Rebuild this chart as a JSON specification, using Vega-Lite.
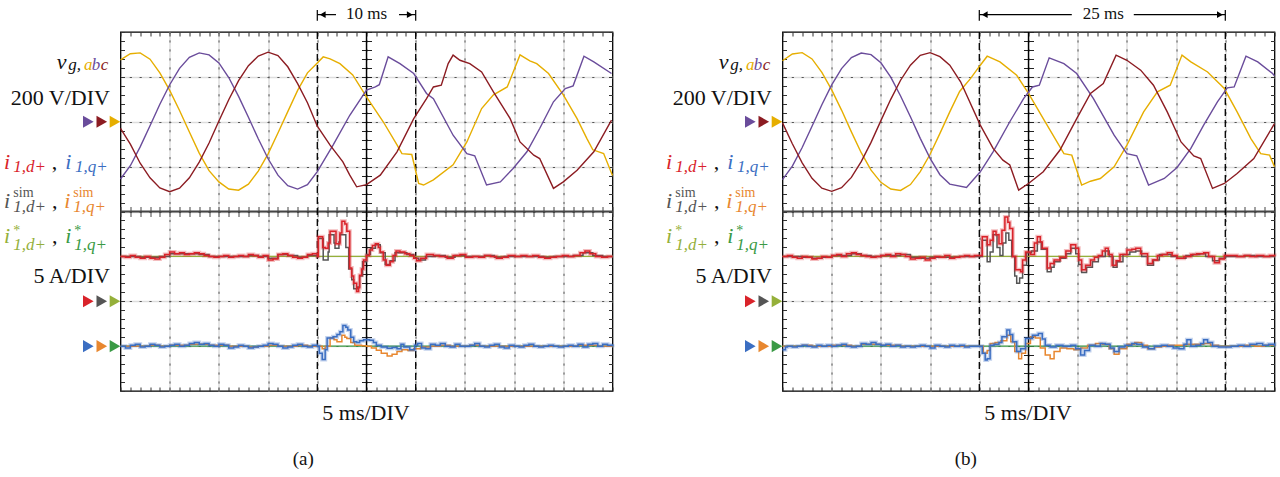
{
"$schema":"https://vega.github.io/schema/vega-lite/v6.json",
"padding":{"left":2.5,"top":3,"right":4,"bottom":0},
"autosize":{"type":"pad"},
"background":"white",
"spacing":170,
"bounds":"flush",
"config":{"view":{"stroke":"#000","strokeWidth":1.3},"text":{"font":"Liberation Serif"}},
"datasets":{
"frame":[{"t":0,"yd":0}],
"ctr":[{"t":25,"yd":0}],
"ev_a":[{"t":20},{"t":30}],
"ev_b":[{"t":20},{"t":45}],
"seg_a":[{"t":20,"t2":20,"yd":4.25,"yd2":4.49},{"t":30,"t2":30,"yd":4.25,"yd2":4.49},{"t":20,"t2":21.9,"yd":4.387,"yd2":4.387},{"t":28.3,"t2":30,"yd":4.387,"yd2":4.387}],
"seg_b":[{"t":20,"t2":20,"yd":4.25,"yd2":4.49},{"t":45,"t2":45,"yd":4.25,"yd2":4.49},{"t":20,"t2":29.4,"yd":4.387,"yd2":4.387},{"t":35.7,"t2":45,"yd":4.387,"yd2":4.387}],
"head_a":[{"t":20.55,"yd":4.387,"dir":"l"},{"t":29.4,"yd":4.387,"dir":"r"}],
"head_b":[{"t":20.55,"yd":4.387,"dir":"l"},{"t":44.45,"yd":4.387,"dir":"r"}],
"txt_a":[{"t":25,"yd":4.3,"text":"10 ms","k":"ms"},{"t":18.58,"yd":-5.64,"text":"(a)","k":"cap"}],
"txt_b":[{"t":32.6,"yd":4.3,"text":"25 ms","k":"ms"},{"t":18.63,"yd":-5.64,"text":"(b)","k":"cap"}],
"mk":[{"t":-3.27,"yd":2,"s":"b"},{"t":-1.9,"yd":2,"s":"c"},{"t":-0.56,"yd":2,"s":"a"},{"t":-3.27,"yd":-2,"s":"d"},{"t":-1.9,"yd":-2,"s":"dsim"},{"t":-0.56,"yd":-2,"s":"dref"},{"t":-3.27,"yd":-3,"s":"q"},{"t":-1.9,"yd":-3,"s":"qsim"},{"t":-0.56,"yd":-3,"s":"qref"}],
"lab":[
{"t":-6.48,"yd":3.185,"text":"v","s":"k","k":"bi"},
{"t":-5.3,"yd":3.144,"text":"g,","s":"k","k":"si"},
{"t":-3.71,"yd":3.144,"text":"a","s":"a","k":"si"},
{"t":-2.93,"yd":3.144,"text":"b","s":"b","k":"si"},
{"t":-2.01,"yd":3.144,"text":"c","s":"c","k":"si"},
{"t":-1.07,"yd":2.383,"text":"200 V/DIV","s":"k","k":"br"},
{"t":-11.84,"yd":0.958,"text":"i","s":"d","k":"bi"},
{"t":-10.9,"yd":0.884,"text":"1,d+","s":"d","k":"si"},
{"t":-6.99,"yd":0.958,"text":",","s":"k","k":"bl"},
{"t":-5.62,"yd":0.958,"text":"i","s":"q","k":"bi"},
{"t":-4.62,"yd":0.884,"text":"1,q+","s":"q","k":"si"},
{"t":-11.84,"yd":0.067,"text":"i","s":"dsim","k":"bi"},
{"t":-10.89,"yd":0.32,"text":"sim","s":"dsim","k":"sr"},
{"t":-10.89,"yd":-0.007,"text":"1,d+","s":"dsim","k":"si"},
{"t":-6.96,"yd":0.067,"text":",","s":"k","k":"bl"},
{"t":-5.71,"yd":0.067,"text":"i","s":"qsim","k":"bi"},
{"t":-4.8,"yd":0.32,"text":"sim","s":"qsim","k":"sr"},
{"t":-4.8,"yd":-0.007,"text":"1,q+","s":"qsim","k":"si"},
{"t":-11.84,"yd":-0.713,"text":"i","s":"dref","k":"bi"},
{"t":-10.89,"yd":-0.526,"text":"*","s":"dref","k":"st"},
{"t":-10.89,"yd":-0.853,"text":"1,d+","s":"dref","k":"si"},
{"t":-6.96,"yd":-0.713,"text":",","s":"k","k":"bl"},
{"t":-5.62,"yd":-0.713,"text":"i","s":"qref","k":"bi"},
{"t":-4.7,"yd":-0.526,"text":"*","s":"qref","k":"st"},
{"t":-4.7,"yd":-0.853,"text":"1,q+","s":"qref","k":"si"},
{"t":-1.07,"yd":-1.603,"text":"5 A/DIV","s":"k","k":"br"},
{"t":24.95,"yd":-4.64,"text":"5 ms/DIV","s":"k","k":"bc"}
],
"va":[
{"t":0,"v":276,"s":"a"},{"t":1,"v":303,"s":"a"},{"t":2,"v":307,"s":"a"},{"t":3,"v":279,"s":"a"},{"t":4,"v":218,"s":"a"},{"t":5,"v":140,"s":"a"},{"t":6,"v":50,"s":"a"},{"t":7,"v":-46,"s":"a"},{"t":8,"v":-140,"s":"a"},{"t":9,"v":-218,"s":"a"},{"t":10,"v":-268,"s":"a"},{"t":11,"v":-300,"s":"a"},{"t":12,"v":-305,"s":"a"},{"t":13,"v":-278,"s":"a"},{"t":14,"v":-220,"s":"a"},{"t":15,"v":-143,"s":"a"},{"t":16,"v":-50,"s":"a"},{"t":17,"v":45,"s":"a"},{"t":18,"v":140,"s":"a"},{"t":19,"v":218,"s":"a"},{"t":20,"v":262,"s":"a"},{"t":20.6,"v":289,"s":"a"},{"t":21.3,"v":280,"s":"a"},{"t":22.3,"v":259,"s":"a"},{"t":23.6,"v":209,"s":"a"},{"t":25,"v":111,"s":"a"},{"t":26.7,"v":0,"s":"a"},{"t":28.1,"v":-103,"s":"a"},{"t":28.6,"v":-142,"s":"a"},{"t":29.6,"v":-146,"s":"a"},{"t":30.3,"v":-275,"s":"a"},{"t":30.8,"v":-282,"s":"a"},{"t":31.8,"v":-259,"s":"a"},{"t":33.8,"v":-192,"s":"a"},{"t":35.2,"v":-90,"s":"a"},{"t":36.7,"v":59,"s":"a"},{"t":37.9,"v":120,"s":"a"},{"t":39.3,"v":155,"s":"a"},{"t":39.8,"v":209,"s":"a"},{"t":40.6,"v":298,"s":"a"},{"t":41.6,"v":271,"s":"a"},{"t":42.3,"v":259,"s":"a"},{"t":43.5,"v":215,"s":"a"},{"t":45,"v":120,"s":"a"},{"t":46.4,"v":14,"s":"a"},{"t":47.4,"v":-75,"s":"a"},{"t":48,"v":-125,"s":"a"},{"t":49.1,"v":-142,"s":"a"},{"t":50,"v":-240,"s":"a"},
{"t":0,"v":-255,"s":"b"},{"t":1,"v":-196,"s":"b"},{"t":2,"v":-112,"s":"b"},{"t":3,"v":-18,"s":"b"},{"t":4,"v":78,"s":"b"},{"t":5,"v":165,"s":"b"},{"t":6,"v":238,"s":"b"},{"t":7,"v":287,"s":"b"},{"t":8,"v":307,"s":"b"},{"t":9,"v":298,"s":"b"},{"t":10,"v":262,"s":"b"},{"t":11,"v":197,"s":"b"},{"t":12,"v":113,"s":"b"},{"t":13,"v":20,"s":"b"},{"t":14,"v":-76,"s":"b"},{"t":15,"v":-165,"s":"b"},{"t":16,"v":-238,"s":"b"},{"t":17,"v":-285,"s":"b"},{"t":18,"v":-300,"s":"b"},{"t":19,"v":-280,"s":"b"},{"t":20,"v":-222,"s":"b"},{"t":21.6,"v":-104,"s":"b"},{"t":23.3,"v":29,"s":"b"},{"t":25,"v":141,"s":"b"},{"t":25.9,"v":155,"s":"b"},{"t":26.3,"v":165,"s":"b"},{"t":27.2,"v":289,"s":"b"},{"t":28.4,"v":259,"s":"b"},{"t":29.8,"v":215,"s":"b"},{"t":31.1,"v":126,"s":"b"},{"t":31.8,"v":103,"s":"b"},{"t":33.8,"v":-60,"s":"b"},{"t":35.2,"v":-142,"s":"b"},{"t":36,"v":-152,"s":"b"},{"t":37.2,"v":-282,"s":"b"},{"t":38.6,"v":-268,"s":"b"},{"t":39.9,"v":-208,"s":"b"},{"t":41.3,"v":-134,"s":"b"},{"t":42.6,"v":-30,"s":"b"},{"t":44,"v":89,"s":"b"},{"t":45.2,"v":148,"s":"b"},{"t":46,"v":160,"s":"b"},{"t":47.1,"v":292,"s":"b"},{"t":48.1,"v":267,"s":"b"},{"t":49.9,"v":215,"s":"b"},
{"t":0,"v":-30,"s":"c"},{"t":1,"v":-100,"s":"c"},{"t":2,"v":-185,"s":"c"},{"t":3,"v":-250,"s":"c"},{"t":4,"v":-295,"s":"c"},{"t":5,"v":-312,"s":"c"},{"t":6,"v":-296,"s":"c"},{"t":7,"v":-250,"s":"c"},{"t":8,"v":-180,"s":"c"},{"t":9,"v":-95,"s":"c"},{"t":10,"v":3,"s":"c"},{"t":11,"v":98,"s":"c"},{"t":12,"v":183,"s":"c"},{"t":13,"v":250,"s":"c"},{"t":14,"v":293,"s":"c"},{"t":15,"v":310,"s":"c"},{"t":16,"v":295,"s":"c"},{"t":17,"v":245,"s":"c"},{"t":18,"v":170,"s":"c"},{"t":19,"v":85,"s":"c"},{"t":20,"v":-20,"s":"c"},{"t":21.3,"v":-104,"s":"c"},{"t":22.6,"v":-179,"s":"c"},{"t":23.3,"v":-238,"s":"c"},{"t":24,"v":-290,"s":"c"},{"t":25,"v":-280,"s":"c"},{"t":26.4,"v":-238,"s":"c"},{"t":28.1,"v":-134,"s":"c"},{"t":29.8,"v":14,"s":"c"},{"t":31.1,"v":103,"s":"c"},{"t":31.8,"v":155,"s":"c"},{"t":32.6,"v":163,"s":"c"},{"t":33.3,"v":259,"s":"c"},{"t":33.8,"v":297,"s":"c"},{"t":34.5,"v":274,"s":"c"},{"t":35.5,"v":259,"s":"c"},{"t":36.7,"v":222,"s":"c"},{"t":37.9,"v":133,"s":"c"},{"t":39.6,"v":14,"s":"c"},{"t":40.6,"v":-90,"s":"c"},{"t":42,"v":-149,"s":"c"},{"t":42.6,"v":-164,"s":"c"},{"t":44,"v":-297,"s":"c"},{"t":45,"v":-268,"s":"c"},{"t":46.4,"v":-216,"s":"c"},{"t":48.1,"v":-134,"s":"c"},{"t":49.9,"v":7,"s":"c"}
],
"vb":[
{"t":0,"v":272,"s":"a"},{"t":1,"v":302,"s":"a"},{"t":2,"v":308,"s":"a"},{"t":3,"v":280,"s":"a"},{"t":4,"v":220,"s":"a"},{"t":5,"v":142,"s":"a"},{"t":6,"v":52,"s":"a"},{"t":7,"v":-45,"s":"a"},{"t":8,"v":-138,"s":"a"},{"t":9,"v":-216,"s":"a"},{"t":10,"v":-270,"s":"a"},{"t":11,"v":-300,"s":"a"},{"t":12,"v":-306,"s":"a"},{"t":13,"v":-280,"s":"a"},{"t":14,"v":-222,"s":"a"},{"t":15,"v":-145,"s":"a"},{"t":16,"v":-52,"s":"a"},{"t":17,"v":44,"s":"a"},{"t":18,"v":135,"s":"a"},{"t":19.1,"v":192,"s":"a"},{"t":20.1,"v":252,"s":"a"},{"t":20.8,"v":292,"s":"a"},{"t":22.1,"v":267,"s":"a"},{"t":23.8,"v":207,"s":"a"},{"t":25,"v":126,"s":"a"},{"t":26.5,"v":14,"s":"a"},{"t":28.6,"v":-142,"s":"a"},{"t":29.4,"v":-149,"s":"a"},{"t":30.4,"v":-282,"s":"a"},{"t":31.3,"v":-265,"s":"a"},{"t":32.3,"v":-253,"s":"a"},{"t":33.7,"v":-201,"s":"a"},{"t":35,"v":-104,"s":"a"},{"t":36.7,"v":44,"s":"a"},{"t":38.1,"v":133,"s":"a"},{"t":39.4,"v":163,"s":"a"},{"t":40.6,"v":297,"s":"a"},{"t":41.5,"v":267,"s":"a"},{"t":43.2,"v":222,"s":"a"},{"t":44.9,"v":148,"s":"a"},{"t":46.2,"v":44,"s":"a"},{"t":47.6,"v":-75,"s":"a"},{"t":48.6,"v":-142,"s":"a"},{"t":49.5,"v":-149,"s":"a"},{"t":50,"v":-201,"s":"a"},
{"t":0,"v":-258,"s":"b"},{"t":1,"v":-198,"s":"b"},{"t":2,"v":-115,"s":"b"},{"t":3,"v":-20,"s":"b"},{"t":4,"v":76,"s":"b"},{"t":5,"v":164,"s":"b"},{"t":6,"v":237,"s":"b"},{"t":7,"v":286,"s":"b"},{"t":8,"v":306,"s":"b"},{"t":9,"v":299,"s":"b"},{"t":10,"v":263,"s":"b"},{"t":11,"v":199,"s":"b"},{"t":12,"v":115,"s":"b"},{"t":13,"v":22,"s":"b"},{"t":14,"v":-74,"s":"b"},{"t":15,"v":-163,"s":"b"},{"t":16,"v":-236,"s":"b"},{"t":17,"v":-278,"s":"b"},{"t":18.7,"v":-293,"s":"b"},{"t":20.1,"v":-223,"s":"b"},{"t":21.4,"v":-134,"s":"b"},{"t":23.1,"v":0,"s":"b"},{"t":24.5,"v":103,"s":"b"},{"t":25.4,"v":155,"s":"b"},{"t":26.1,"v":163,"s":"b"},{"t":27.1,"v":285,"s":"b"},{"t":28.6,"v":259,"s":"b"},{"t":29.9,"v":215,"s":"b"},{"t":31.6,"v":103,"s":"b"},{"t":33.7,"v":-60,"s":"b"},{"t":35,"v":-142,"s":"b"},{"t":36,"v":-152,"s":"b"},{"t":37.2,"v":-282,"s":"b"},{"t":38.8,"v":-253,"s":"b"},{"t":40.1,"v":-204,"s":"b"},{"t":41.5,"v":-119,"s":"b"},{"t":42.8,"v":-15,"s":"b"},{"t":44.2,"v":89,"s":"b"},{"t":45.2,"v":151,"s":"b"},{"t":45.9,"v":155,"s":"b"},{"t":47.1,"v":292,"s":"b"},{"t":48.3,"v":267,"s":"b"},{"t":49.8,"v":215,"s":"b"},{"t":50,"v":205,"s":"b"},
{"t":0,"v":-5,"s":"c"},{"t":1,"v":-98,"s":"c"},{"t":2,"v":-183,"s":"c"},{"t":3,"v":-252,"s":"c"},{"t":4,"v":-296,"s":"c"},{"t":5,"v":-310,"s":"c"},{"t":6,"v":-294,"s":"c"},{"t":7,"v":-248,"s":"c"},{"t":8,"v":-178,"s":"c"},{"t":9,"v":-92,"s":"c"},{"t":10,"v":5,"s":"c"},{"t":11,"v":100,"s":"c"},{"t":12,"v":185,"s":"c"},{"t":13,"v":252,"s":"c"},{"t":14,"v":296,"s":"c"},{"t":15,"v":308,"s":"c"},{"t":16,"v":290,"s":"c"},{"t":17,"v":252,"s":"c"},{"t":18.1,"v":178,"s":"c"},{"t":20.1,"v":-15,"s":"c"},{"t":21.4,"v":-119,"s":"c"},{"t":22.4,"v":-171,"s":"c"},{"t":23.1,"v":-193,"s":"c"},{"t":24,"v":-305,"s":"c"},{"t":25,"v":-275,"s":"c"},{"t":26.5,"v":-223,"s":"c"},{"t":28.2,"v":-126,"s":"c"},{"t":29.9,"v":14,"s":"c"},{"t":31.3,"v":126,"s":"c"},{"t":32.6,"v":170,"s":"c"},{"t":33.9,"v":297,"s":"c"},{"t":35,"v":274,"s":"c"},{"t":36.4,"v":230,"s":"c"},{"t":37.7,"v":163,"s":"c"},{"t":39.1,"v":44,"s":"c"},{"t":40.5,"v":-90,"s":"c"},{"t":41.8,"v":-152,"s":"c"},{"t":42.5,"v":-164,"s":"c"},{"t":43.7,"v":-297,"s":"c"},{"t":44.9,"v":-275,"s":"c"},{"t":46.2,"v":-231,"s":"c"},{"t":47.9,"v":-164,"s":"c"},{"t":50,"v":-8,"s":"c"}
],
"da":[
{"t":0,"i":5,"s":"dref"},{"t":50,"i":5,"s":"dref"},
{"t":0,"i":5.0,"s":"dsim"},{"t":1,"i":5.0,"s":"dsim"},{"t":2,"i":4.9,"s":"dsim"},{"t":3,"i":4.9,"s":"dsim"},{"t":4,"i":5.0,"s":"dsim"},{"t":5,"i":5.3,"s":"dsim"},{"t":6,"i":5.3,"s":"dsim"},{"t":7,"i":5.3,"s":"dsim"},{"t":8,"i":5.2,"s":"dsim"},{"t":9,"i":5.0,"s":"dsim"},{"t":10,"i":5.0,"s":"dsim"},{"t":11,"i":5.0,"s":"dsim"},{"t":12,"i":5.0,"s":"dsim"},{"t":13,"i":5.1,"s":"dsim"},{"t":14,"i":5.0,"s":"dsim"},{"t":15,"i":4.8,"s":"dsim"},{"t":16,"i":5.2,"s":"dsim"},{"t":17,"i":5.1,"s":"dsim"},{"t":18,"i":4.9,"s":"dsim"},{"t":19,"i":5.1,"s":"dsim"},{"t":20,"i":5.0,"s":"dsim"},{"t":20.1,"i":7.0,"s":"dsim"},{"t":20.6,"i":4.6,"s":"dsim"},{"t":21.1,"i":5.5,"s":"dsim"},{"t":21.2,"i":7.4,"s":"dsim"},{"t":21.7,"i":6.5,"s":"dsim"},{"t":21.8,"i":5.9,"s":"dsim"},{"t":22.2,"i":6.6,"s":"dsim"},{"t":22.3,"i":7.4,"s":"dsim"},{"t":22.9,"i":6.0,"s":"dsim"},{"t":23.2,"i":3.6,"s":"dsim"},{"t":23.5,"i":2.4,"s":"dsim"},{"t":23.7,"i":1.4,"s":"dsim"},{"t":24.1,"i":1.6,"s":"dsim"},{"t":24.3,"i":2.8,"s":"dsim"},{"t":24.6,"i":4.4,"s":"dsim"},{"t":25,"i":5.2,"s":"dsim"},{"t":25.4,"i":5.9,"s":"dsim"},{"t":25.9,"i":6.3,"s":"dsim"},{"t":26.4,"i":5.4,"s":"dsim"},{"t":26.9,"i":4.1,"s":"dsim"},{"t":27.4,"i":4.5,"s":"dsim"},{"t":27.9,"i":5.4,"s":"dsim"},{"t":28.5,"i":5.4,"s":"dsim"},{"t":29.1,"i":5.2,"s":"dsim"},{"t":29.8,"i":4.8,"s":"dsim"},{"t":30.3,"i":4.6,"s":"dsim"},{"t":31,"i":5.0,"s":"dsim"},{"t":32,"i":5.1,"s":"dsim"},{"t":33,"i":4.9,"s":"dsim"},{"t":34,"i":5.1,"s":"dsim"},{"t":35,"i":5.0,"s":"dsim"},{"t":36,"i":5.0,"s":"dsim"},{"t":37,"i":5.1,"s":"dsim"},{"t":38,"i":4.9,"s":"dsim"},{"t":39,"i":5.0,"s":"dsim"},{"t":40,"i":5.0,"s":"dsim"},{"t":41,"i":5.0,"s":"dsim"},{"t":42,"i":5.0,"s":"dsim"},{"t":43,"i":4.9,"s":"dsim"},{"t":44,"i":5.0,"s":"dsim"},{"t":45,"i":5.0,"s":"dsim"},{"t":46,"i":5.1,"s":"dsim"},{"t":47,"i":5.4,"s":"dsim"},{"t":48,"i":5.1,"s":"dsim"},{"t":49,"i":5.0,"s":"dsim"},{"t":50,"i":5.0,"s":"dsim"},
{"t":0,"i":5.0,"s":"d"},{"t":0.5,"i":4.9,"s":"d"},{"t":1,"i":5.1,"s":"d"},{"t":1.5,"i":4.9,"s":"d"},{"t":2,"i":4.8,"s":"d"},{"t":2.5,"i":5.0,"s":"d"},{"t":3,"i":4.8,"s":"d"},{"t":3.5,"i":4.7,"s":"d"},{"t":4,"i":4.9,"s":"d"},{"t":4.5,"i":5.2,"s":"d"},{"t":5,"i":5.5,"s":"d"},{"t":5.5,"i":5.3,"s":"d"},{"t":6,"i":5.4,"s":"d"},{"t":6.5,"i":5.2,"s":"d"},{"t":7,"i":5.3,"s":"d"},{"t":7.5,"i":5.4,"s":"d"},{"t":8,"i":5.3,"s":"d"},{"t":8.5,"i":5.1,"s":"d"},{"t":9,"i":5.0,"s":"d"},{"t":9.5,"i":4.9,"s":"d"},{"t":10,"i":5.0,"s":"d"},{"t":10.5,"i":5.1,"s":"d"},{"t":11,"i":4.9,"s":"d"},{"t":11.5,"i":5.0,"s":"d"},{"t":12,"i":5.1,"s":"d"},{"t":12.5,"i":5.0,"s":"d"},{"t":13,"i":5.2,"s":"d"},{"t":13.5,"i":5.1,"s":"d"},{"t":14,"i":4.9,"s":"d"},{"t":14.5,"i":5.1,"s":"d"},{"t":15,"i":4.6,"s":"d"},{"t":15.5,"i":4.7,"s":"d"},{"t":16,"i":5.2,"s":"d"},{"t":16.5,"i":5.3,"s":"d"},{"t":17,"i":5.1,"s":"d"},{"t":17.5,"i":4.9,"s":"d"},{"t":18,"i":4.8,"s":"d"},{"t":18.5,"i":4.9,"s":"d"},{"t":19,"i":5.2,"s":"d"},{"t":19.5,"i":5.3,"s":"d"},{"t":20,"i":5.0,"s":"d"},{"t":20.1,"i":7.2,"s":"d"},{"t":20.55,"i":6.0,"s":"d"},{"t":20.8,"i":5.9,"s":"d"},{"t":21.1,"i":6.5,"s":"d"},{"t":21.3,"i":7.8,"s":"d"},{"t":21.9,"i":6.4,"s":"d"},{"t":22.3,"i":7.6,"s":"d"},{"t":22.5,"i":8.9,"s":"d"},{"t":22.8,"i":8.6,"s":"d"},{"t":23,"i":7.8,"s":"d"},{"t":23.3,"i":3.7,"s":"d"},{"t":23.5,"i":2.8,"s":"d"},{"t":23.7,"i":2.0,"s":"d"},{"t":24,"i":1.1,"s":"d"},{"t":24.2,"i":1.5,"s":"d"},{"t":24.3,"i":2.9,"s":"d"},{"t":24.5,"i":3.6,"s":"d"},{"t":24.7,"i":4.6,"s":"d"},{"t":25,"i":5.1,"s":"d"},{"t":25.3,"i":5.7,"s":"d"},{"t":25.6,"i":6.2,"s":"d"},{"t":25.9,"i":6.4,"s":"d"},{"t":26.2,"i":6.0,"s":"d"},{"t":26.4,"i":5.5,"s":"d"},{"t":26.7,"i":4.6,"s":"d"},{"t":27,"i":4.0,"s":"d"},{"t":27.4,"i":4.4,"s":"d"},{"t":27.7,"i":5.1,"s":"d"},{"t":28,"i":5.6,"s":"d"},{"t":28.4,"i":5.5,"s":"d"},{"t":28.9,"i":5.3,"s":"d"},{"t":29.4,"i":5.1,"s":"d"},{"t":29.8,"i":4.8,"s":"d"},{"t":30.1,"i":4.5,"s":"d"},{"t":30.5,"i":4.8,"s":"d"},{"t":31.1,"i":5.2,"s":"d"},{"t":31.8,"i":5.1,"s":"d"},{"t":32.4,"i":5.0,"s":"d"},{"t":33.2,"i":4.8,"s":"d"},{"t":33.8,"i":5.1,"s":"d"},{"t":34.5,"i":5.2,"s":"d"},{"t":35.1,"i":4.9,"s":"d"},{"t":35.8,"i":5.0,"s":"d"},{"t":36.4,"i":4.9,"s":"d"},{"t":37,"i":5.1,"s":"d"},{"t":37.6,"i":5.0,"s":"d"},{"t":38.2,"i":4.8,"s":"d"},{"t":38.8,"i":4.9,"s":"d"},{"t":39.4,"i":5.1,"s":"d"},{"t":40.1,"i":5.0,"s":"d"},{"t":40.7,"i":5.1,"s":"d"},{"t":41.3,"i":5.0,"s":"d"},{"t":41.9,"i":5.1,"s":"d"},{"t":42.5,"i":4.9,"s":"d"},{"t":43.1,"i":4.8,"s":"d"},{"t":43.7,"i":4.9,"s":"d"},{"t":44.3,"i":5.0,"s":"d"},{"t":44.9,"i":5.1,"s":"d"},{"t":45.5,"i":5.0,"s":"d"},{"t":46.1,"i":5.1,"s":"d"},{"t":46.7,"i":5.4,"s":"d"},{"t":47.2,"i":5.6,"s":"d"},{"t":47.7,"i":5.3,"s":"d"},{"t":48.3,"i":5.0,"s":"d"},{"t":48.9,"i":4.9,"s":"d"},{"t":49.5,"i":5.0,"s":"d"},{"t":50,"i":5.0,"s":"d"}
],
"qa":[
{"t":0,"i":0,"s":"qref"},{"t":50,"i":0,"s":"qref"},
{"t":0,"i":0.0,"s":"qsim"},{"t":1,"i":0.0,"s":"qsim"},{"t":2,"i":0.0,"s":"qsim"},{"t":3,"i":0.1,"s":"qsim"},{"t":4,"i":0.0,"s":"qsim"},{"t":5,"i":0.1,"s":"qsim"},{"t":6,"i":0.1,"s":"qsim"},{"t":7,"i":0.2,"s":"qsim"},{"t":8,"i":0.2,"s":"qsim"},{"t":9,"i":0.1,"s":"qsim"},{"t":10,"i":0.1,"s":"qsim"},{"t":11,"i":0.0,"s":"qsim"},{"t":12,"i":0.0,"s":"qsim"},{"t":13,"i":-0.1,"s":"qsim"},{"t":14,"i":0.0,"s":"qsim"},{"t":15,"i":0.1,"s":"qsim"},{"t":16,"i":0.0,"s":"qsim"},{"t":17,"i":0.0,"s":"qsim"},{"t":18,"i":0.1,"s":"qsim"},{"t":19,"i":0.0,"s":"qsim"},{"t":20,"i":0.0,"s":"qsim"},{"t":20.5,"i":-0.3,"s":"qsim"},{"t":20.8,"i":0.0,"s":"qsim"},{"t":21.3,"i":0.9,"s":"qsim"},{"t":21.7,"i":0.7,"s":"qsim"},{"t":22,"i":0.5,"s":"qsim"},{"t":22.5,"i":1.2,"s":"qsim"},{"t":22.8,"i":1.0,"s":"qsim"},{"t":23,"i":0.85,"s":"qsim"},{"t":23.4,"i":0.4,"s":"qsim"},{"t":23.8,"i":0.1,"s":"qsim"},{"t":24.5,"i":0.05,"s":"qsim"},{"t":25,"i":0.0,"s":"qsim"},{"t":25.5,"i":-0.2,"s":"qsim"},{"t":26,"i":-0.45,"s":"qsim"},{"t":26.5,"i":-0.8,"s":"qsim"},{"t":27.1,"i":-1.1,"s":"qsim"},{"t":27.6,"i":-0.9,"s":"qsim"},{"t":28.1,"i":-0.6,"s":"qsim"},{"t":28.6,"i":-0.4,"s":"qsim"},{"t":29.2,"i":-0.5,"s":"qsim"},{"t":29.8,"i":-0.3,"s":"qsim"},{"t":30.5,"i":-0.1,"s":"qsim"},{"t":31.5,"i":0.0,"s":"qsim"},{"t":32.5,"i":0.1,"s":"qsim"},{"t":33.5,"i":0.0,"s":"qsim"},{"t":35.5,"i":0.1,"s":"qsim"},{"t":36.5,"i":0.0,"s":"qsim"},{"t":46.5,"i":0.1,"s":"qsim"},{"t":48.5,"i":0.0,"s":"qsim"},{"t":50,"i":0.0,"s":"qsim"},
{"t":0,"i":0.0,"s":"q"},{"t":0.5,"i":-0.2,"s":"q"},{"t":1,"i":0.1,"s":"q"},{"t":1.5,"i":0.2,"s":"q"},{"t":2,"i":-0.1,"s":"q"},{"t":2.5,"i":0.0,"s":"q"},{"t":3,"i":0.2,"s":"q"},{"t":3.5,"i":0.1,"s":"q"},{"t":4,"i":-0.1,"s":"q"},{"t":4.5,"i":0.0,"s":"q"},{"t":5,"i":0.1,"s":"q"},{"t":5.5,"i":0.2,"s":"q"},{"t":6,"i":0.0,"s":"q"},{"t":6.5,"i":0.1,"s":"q"},{"t":7,"i":0.3,"s":"q"},{"t":7.5,"i":0.4,"s":"q"},{"t":8,"i":0.2,"s":"q"},{"t":8.5,"i":0.3,"s":"q"},{"t":9,"i":0.1,"s":"q"},{"t":9.5,"i":0.0,"s":"q"},{"t":10,"i":0.2,"s":"q"},{"t":10.5,"i":0.1,"s":"q"},{"t":11,"i":-0.2,"s":"q"},{"t":11.5,"i":-0.1,"s":"q"},{"t":12,"i":0.1,"s":"q"},{"t":12.5,"i":0.0,"s":"q"},{"t":13,"i":-0.2,"s":"q"},{"t":13.5,"i":-0.1,"s":"q"},{"t":14,"i":0.0,"s":"q"},{"t":14.5,"i":0.1,"s":"q"},{"t":15,"i":0.3,"s":"q"},{"t":15.5,"i":0.2,"s":"q"},{"t":16,"i":0.0,"s":"q"},{"t":16.5,"i":-0.2,"s":"q"},{"t":17,"i":-0.1,"s":"q"},{"t":17.5,"i":0.1,"s":"q"},{"t":18,"i":0.2,"s":"q"},{"t":18.5,"i":0.0,"s":"q"},{"t":19,"i":-0.1,"s":"q"},{"t":19.5,"i":0.1,"s":"q"},{"t":20,"i":0.0,"s":"q"},{"t":20.2,"i":-0.8,"s":"q"},{"t":20.5,"i":-1.5,"s":"q"},{"t":20.8,"i":-0.4,"s":"q"},{"t":21,"i":0.9,"s":"q"},{"t":21.6,"i":1.05,"s":"q"},{"t":22,"i":1.3,"s":"q"},{"t":22.3,"i":1.6,"s":"q"},{"t":22.6,"i":2.3,"s":"q"},{"t":22.9,"i":2.1,"s":"q"},{"t":23.1,"i":1.8,"s":"q"},{"t":23.4,"i":1.0,"s":"q"},{"t":23.7,"i":0.5,"s":"q"},{"t":24,"i":0.4,"s":"q"},{"t":24.3,"i":0.6,"s":"q"},{"t":24.7,"i":0.7,"s":"q"},{"t":25.3,"i":0.65,"s":"q"},{"t":25.7,"i":0.4,"s":"q"},{"t":26,"i":0.1,"s":"q"},{"t":26.5,"i":-0.1,"s":"q"},{"t":27.1,"i":-0.25,"s":"q"},{"t":27.6,"i":-0.15,"s":"q"},{"t":28.1,"i":-0.3,"s":"q"},{"t":28.5,"i":0.2,"s":"q"},{"t":28.8,"i":-0.1,"s":"q"},{"t":29.4,"i":-0.4,"s":"q"},{"t":29.9,"i":0.1,"s":"q"},{"t":30.2,"i":0.3,"s":"q"},{"t":30.6,"i":-0.2,"s":"q"},{"t":31,"i":-0.3,"s":"q"},{"t":31.5,"i":0.2,"s":"q"},{"t":32,"i":0.1,"s":"q"},{"t":32.5,"i":0.3,"s":"q"},{"t":33,"i":0.0,"s":"q"},{"t":33.5,"i":-0.1,"s":"q"},{"t":34,"i":0.2,"s":"q"},{"t":34.5,"i":0.0,"s":"q"},{"t":35.5,"i":0.1,"s":"q"},{"t":36,"i":0.3,"s":"q"},{"t":36.5,"i":0.0,"s":"q"},{"t":37,"i":-0.1,"s":"q"},{"t":37.5,"i":0.1,"s":"q"},{"t":38,"i":0.2,"s":"q"},{"t":38.5,"i":-0.1,"s":"q"},{"t":39,"i":-0.2,"s":"q"},{"t":39.5,"i":0.1,"s":"q"},{"t":40,"i":0.0,"s":"q"},{"t":40.5,"i":-0.1,"s":"q"},{"t":41,"i":0.1,"s":"q"},{"t":41.5,"i":0.2,"s":"q"},{"t":42,"i":0.0,"s":"q"},{"t":42.5,"i":-0.1,"s":"q"},{"t":43,"i":0.0,"s":"q"},{"t":43.5,"i":0.1,"s":"q"},{"t":44,"i":0.0,"s":"q"},{"t":44.5,"i":-0.1,"s":"q"},{"t":45,"i":0.0,"s":"q"},{"t":45.5,"i":0.1,"s":"q"},{"t":46,"i":0.0,"s":"q"},{"t":46.5,"i":0.2,"s":"q"},{"t":47,"i":-0.1,"s":"q"},{"t":47.5,"i":0.2,"s":"q"},{"t":48,"i":0.3,"s":"q"},{"t":48.5,"i":0.0,"s":"q"},{"t":49,"i":0.2,"s":"q"},{"t":49.5,"i":0.1,"s":"q"},{"t":50,"i":0.2,"s":"q"}
],
"db":[
{"t":0,"i":5,"s":"dref"},{"t":50,"i":5,"s":"dref"},
{"t":0,"i":5.0,"s":"dsim"},{"t":1,"i":5.0,"s":"dsim"},{"t":2,"i":4.9,"s":"dsim"},{"t":3,"i":4.8,"s":"dsim"},{"t":4,"i":4.9,"s":"dsim"},{"t":5,"i":5.1,"s":"dsim"},{"t":6,"i":5.1,"s":"dsim"},{"t":7,"i":5.3,"s":"dsim"},{"t":8,"i":5.1,"s":"dsim"},{"t":9,"i":5.0,"s":"dsim"},{"t":10,"i":5.1,"s":"dsim"},{"t":11,"i":5.1,"s":"dsim"},{"t":12,"i":5.2,"s":"dsim"},{"t":13,"i":4.9,"s":"dsim"},{"t":14,"i":4.8,"s":"dsim"},{"t":15,"i":4.9,"s":"dsim"},{"t":16,"i":4.9,"s":"dsim"},{"t":17,"i":4.9,"s":"dsim"},{"t":18,"i":5.0,"s":"dsim"},{"t":19,"i":5.0,"s":"dsim"},{"t":20.1,"i":5.0,"s":"dsim"},{"t":20.3,"i":6.8,"s":"dsim"},{"t":20.8,"i":4.4,"s":"dsim"},{"t":21.1,"i":5.5,"s":"dsim"},{"t":21.4,"i":7.4,"s":"dsim"},{"t":21.8,"i":6.0,"s":"dsim"},{"t":22.1,"i":5.1,"s":"dsim"},{"t":22.4,"i":6.5,"s":"dsim"},{"t":22.7,"i":7.6,"s":"dsim"},{"t":23,"i":6.8,"s":"dsim"},{"t":23.3,"i":5.0,"s":"dsim"},{"t":23.6,"i":2.8,"s":"dsim"},{"t":23.8,"i":2.0,"s":"dsim"},{"t":24.1,"i":2.6,"s":"dsim"},{"t":24.4,"i":4.0,"s":"dsim"},{"t":24.8,"i":5.4,"s":"dsim"},{"t":25.3,"i":5.6,"s":"dsim"},{"t":25.9,"i":6.6,"s":"dsim"},{"t":26.3,"i":5.8,"s":"dsim"},{"t":26.9,"i":3.3,"s":"dsim"},{"t":27.3,"i":3.8,"s":"dsim"},{"t":27.6,"i":4.4,"s":"dsim"},{"t":28.2,"i":4.8,"s":"dsim"},{"t":28.8,"i":5.3,"s":"dsim"},{"t":29.3,"i":5.9,"s":"dsim"},{"t":29.8,"i":5.3,"s":"dsim"},{"t":30.1,"i":4.1,"s":"dsim"},{"t":30.4,"i":3.2,"s":"dsim"},{"t":30.9,"i":3.8,"s":"dsim"},{"t":31.5,"i":4.4,"s":"dsim"},{"t":32.1,"i":5.0,"s":"dsim"},{"t":32.8,"i":5.6,"s":"dsim"},{"t":33.2,"i":5.0,"s":"dsim"},{"t":33.6,"i":3.8,"s":"dsim"},{"t":34,"i":4.4,"s":"dsim"},{"t":34.6,"i":5.2,"s":"dsim"},{"t":35.3,"i":5.5,"s":"dsim"},{"t":35.9,"i":5.6,"s":"dsim"},{"t":36.5,"i":5.0,"s":"dsim"},{"t":37.1,"i":4.0,"s":"dsim"},{"t":37.7,"i":4.6,"s":"dsim"},{"t":38.3,"i":5.2,"s":"dsim"},{"t":39,"i":5.2,"s":"dsim"},{"t":39.5,"i":5.0,"s":"dsim"},{"t":40.1,"i":4.8,"s":"dsim"},{"t":41,"i":5.1,"s":"dsim"},{"t":41.7,"i":5.2,"s":"dsim"},{"t":42.4,"i":5.3,"s":"dsim"},{"t":43,"i":5.0,"s":"dsim"},{"t":43.7,"i":4.5,"s":"dsim"},{"t":44.4,"i":4.8,"s":"dsim"},{"t":45,"i":5.0,"s":"dsim"},{"t":46,"i":5.0,"s":"dsim"},{"t":47,"i":5.1,"s":"dsim"},{"t":48,"i":5.0,"s":"dsim"},{"t":50,"i":5.0,"s":"dsim"},
{"t":0,"i":5.0,"s":"d"},{"t":0.5,"i":5.1,"s":"d"},{"t":1,"i":4.9,"s":"d"},{"t":1.5,"i":4.8,"s":"d"},{"t":2,"i":5.0,"s":"d"},{"t":2.5,"i":4.9,"s":"d"},{"t":3,"i":4.7,"s":"d"},{"t":3.5,"i":4.8,"s":"d"},{"t":4,"i":5.0,"s":"d"},{"t":4.5,"i":4.9,"s":"d"},{"t":5,"i":5.1,"s":"d"},{"t":5.5,"i":5.2,"s":"d"},{"t":6,"i":5.0,"s":"d"},{"t":6.5,"i":5.3,"s":"d"},{"t":7,"i":5.4,"s":"d"},{"t":7.5,"i":5.2,"s":"d"},{"t":8,"i":5.1,"s":"d"},{"t":8.5,"i":5.0,"s":"d"},{"t":9,"i":4.9,"s":"d"},{"t":9.5,"i":5.0,"s":"d"},{"t":10,"i":5.1,"s":"d"},{"t":10.5,"i":5.2,"s":"d"},{"t":11,"i":5.0,"s":"d"},{"t":11.5,"i":5.3,"s":"d"},{"t":12,"i":5.2,"s":"d"},{"t":12.5,"i":5.0,"s":"d"},{"t":13,"i":4.7,"s":"d"},{"t":13.5,"i":4.8,"s":"d"},{"t":14,"i":4.9,"s":"d"},{"t":14.5,"i":4.6,"s":"d"},{"t":15,"i":4.8,"s":"d"},{"t":15.5,"i":5.0,"s":"d"},{"t":16,"i":4.9,"s":"d"},{"t":16.5,"i":5.1,"s":"d"},{"t":17,"i":4.8,"s":"d"},{"t":17.5,"i":4.9,"s":"d"},{"t":18,"i":5.0,"s":"d"},{"t":18.5,"i":5.1,"s":"d"},{"t":19,"i":5.0,"s":"d"},{"t":19.5,"i":5.1,"s":"d"},{"t":20.1,"i":5.1,"s":"d"},{"t":20.3,"i":7.2,"s":"d"},{"t":20.8,"i":6.3,"s":"d"},{"t":21.1,"i":6.8,"s":"d"},{"t":21.4,"i":7.8,"s":"d"},{"t":21.7,"i":7.4,"s":"d"},{"t":22,"i":6.4,"s":"d"},{"t":22.3,"i":7.9,"s":"d"},{"t":22.6,"i":9.4,"s":"d"},{"t":22.9,"i":8.8,"s":"d"},{"t":23.1,"i":8.1,"s":"d"},{"t":23.4,"i":5.0,"s":"d"},{"t":23.7,"i":3.5,"s":"d"},{"t":24.2,"i":3.3,"s":"d"},{"t":24.4,"i":4.6,"s":"d"},{"t":24.7,"i":5.5,"s":"d"},{"t":25.2,"i":5.2,"s":"d"},{"t":25.6,"i":6.5,"s":"d"},{"t":25.9,"i":7.2,"s":"d"},{"t":26.2,"i":6.6,"s":"d"},{"t":26.4,"i":5.9,"s":"d"},{"t":26.9,"i":3.7,"s":"d"},{"t":27.2,"i":4.2,"s":"d"},{"t":27.6,"i":4.6,"s":"d"},{"t":28.2,"i":4.9,"s":"d"},{"t":28.8,"i":5.6,"s":"d"},{"t":29.3,"i":6.3,"s":"d"},{"t":29.8,"i":5.9,"s":"d"},{"t":30.1,"i":4.6,"s":"d"},{"t":30.4,"i":3.5,"s":"d"},{"t":30.8,"i":4.0,"s":"d"},{"t":31.3,"i":4.6,"s":"d"},{"t":31.7,"i":4.9,"s":"d"},{"t":32.1,"i":5.1,"s":"d"},{"t":32.5,"i":5.6,"s":"d"},{"t":32.8,"i":5.9,"s":"d"},{"t":33.1,"i":5.2,"s":"d"},{"t":33.5,"i":4.0,"s":"d"},{"t":33.9,"i":4.5,"s":"d"},{"t":34.3,"i":5.2,"s":"d"},{"t":35,"i":5.7,"s":"d"},{"t":35.5,"i":5.8,"s":"d"},{"t":35.9,"i":5.9,"s":"d"},{"t":36.4,"i":5.3,"s":"d"},{"t":37.1,"i":4.2,"s":"d"},{"t":37.6,"i":4.6,"s":"d"},{"t":38.1,"i":5.1,"s":"d"},{"t":38.6,"i":5.2,"s":"d"},{"t":39.1,"i":5.4,"s":"d"},{"t":39.6,"i":5.1,"s":"d"},{"t":40.1,"i":4.8,"s":"d"},{"t":40.8,"i":5.0,"s":"d"},{"t":41.5,"i":5.2,"s":"d"},{"t":42.1,"i":5.3,"s":"d"},{"t":42.8,"i":5.4,"s":"d"},{"t":43.3,"i":5.0,"s":"d"},{"t":43.9,"i":4.3,"s":"d"},{"t":44.4,"i":4.7,"s":"d"},{"t":44.9,"i":5.1,"s":"d"},{"t":45.5,"i":5.1,"s":"d"},{"t":46.2,"i":5.0,"s":"d"},{"t":46.9,"i":5.1,"s":"d"},{"t":47.5,"i":5.0,"s":"d"},{"t":48.2,"i":5.1,"s":"d"},{"t":48.9,"i":5.0,"s":"d"},{"t":49.5,"i":5.1,"s":"d"},{"t":50,"i":5.0,"s":"d"}
],
"qb":[
{"t":0,"i":0,"s":"qref"},{"t":50,"i":0,"s":"qref"},
{"t":0,"i":0.0,"s":"qsim"},{"t":2,"i":0.1,"s":"qsim"},{"t":3,"i":0.0,"s":"qsim"},{"t":5,"i":0.1,"s":"qsim"},{"t":7,"i":0.0,"s":"qsim"},{"t":8,"i":0.2,"s":"qsim"},{"t":10,"i":0.1,"s":"qsim"},{"t":12,"i":0.0,"s":"qsim"},{"t":20.1,"i":0.0,"s":"qsim"},{"t":20.4,"i":-0.8,"s":"qsim"},{"t":20.8,"i":-0.5,"s":"qsim"},{"t":21.1,"i":0.3,"s":"qsim"},{"t":21.6,"i":0.4,"s":"qsim"},{"t":22.2,"i":0.6,"s":"qsim"},{"t":22.8,"i":1.2,"s":"qsim"},{"t":23.2,"i":0.5,"s":"qsim"},{"t":23.6,"i":-0.6,"s":"qsim"},{"t":24,"i":-1.4,"s":"qsim"},{"t":24.3,"i":-0.8,"s":"qsim"},{"t":24.7,"i":0.3,"s":"qsim"},{"t":25.2,"i":1.05,"s":"qsim"},{"t":25.7,"i":0.9,"s":"qsim"},{"t":26.2,"i":-0.2,"s":"qsim"},{"t":26.7,"i":-1.0,"s":"qsim"},{"t":27.2,"i":-1.4,"s":"qsim"},{"t":27.6,"i":-0.6,"s":"qsim"},{"t":28.2,"i":-0.2,"s":"qsim"},{"t":28.9,"i":-0.3,"s":"qsim"},{"t":29.6,"i":-0.4,"s":"qsim"},{"t":30.3,"i":-0.2,"s":"qsim"},{"t":31,"i":0.1,"s":"qsim"},{"t":31.8,"i":0.3,"s":"qsim"},{"t":32.5,"i":0.2,"s":"qsim"},{"t":33.2,"i":-0.3,"s":"qsim"},{"t":33.7,"i":-0.9,"s":"qsim"},{"t":34.2,"i":-0.3,"s":"qsim"},{"t":35,"i":0.2,"s":"qsim"},{"t":35.8,"i":0.4,"s":"qsim"},{"t":36.5,"i":0.1,"s":"qsim"},{"t":37.1,"i":-0.3,"s":"qsim"},{"t":37.8,"i":-0.1,"s":"qsim"},{"t":38.5,"i":0.0,"s":"qsim"},{"t":39.2,"i":0.1,"s":"qsim"},{"t":41,"i":0.2,"s":"qsim"},{"t":42.8,"i":0.3,"s":"qsim"},{"t":43.5,"i":0.1,"s":"qsim"},{"t":44.3,"i":0.0,"s":"qsim"},{"t":47,"i":0.1,"s":"qsim"},{"t":48,"i":0.0,"s":"qsim"},{"t":49,"i":0.1,"s":"qsim"},{"t":50,"i":0.0,"s":"qsim"},
{"t":0,"i":-0.4,"s":"q"},{"t":0.3,"i":-0.1,"s":"q"},{"t":0.5,"i":0.0,"s":"q"},{"t":1,"i":-0.1,"s":"q"},{"t":1.5,"i":0.0,"s":"q"},{"t":2,"i":0.1,"s":"q"},{"t":2.5,"i":0.0,"s":"q"},{"t":3,"i":-0.1,"s":"q"},{"t":3.5,"i":0.1,"s":"q"},{"t":4,"i":0.0,"s":"q"},{"t":4.5,"i":0.1,"s":"q"},{"t":5,"i":0.0,"s":"q"},{"t":5.5,"i":0.1,"s":"q"},{"t":6,"i":0.2,"s":"q"},{"t":6.5,"i":0.0,"s":"q"},{"t":7,"i":-0.1,"s":"q"},{"t":7.5,"i":0.0,"s":"q"},{"t":8,"i":0.3,"s":"q"},{"t":8.5,"i":0.2,"s":"q"},{"t":9,"i":0.4,"s":"q"},{"t":9.5,"i":0.2,"s":"q"},{"t":10,"i":0.1,"s":"q"},{"t":10.5,"i":0.2,"s":"q"},{"t":11,"i":0.0,"s":"q"},{"t":11.5,"i":0.1,"s":"q"},{"t":12,"i":-0.1,"s":"q"},{"t":12.5,"i":0.0,"s":"q"},{"t":13,"i":-0.1,"s":"q"},{"t":13.5,"i":0.0,"s":"q"},{"t":14,"i":0.1,"s":"q"},{"t":14.5,"i":0.0,"s":"q"},{"t":15,"i":-0.2,"s":"q"},{"t":15.5,"i":0.1,"s":"q"},{"t":16,"i":0.0,"s":"q"},{"t":16.5,"i":-0.1,"s":"q"},{"t":17,"i":0.1,"s":"q"},{"t":17.5,"i":0.0,"s":"q"},{"t":18,"i":0.1,"s":"q"},{"t":18.5,"i":-0.1,"s":"q"},{"t":19,"i":0.0,"s":"q"},{"t":20.1,"i":0.0,"s":"q"},{"t":20.3,"i":-0.8,"s":"q"},{"t":20.6,"i":-1.55,"s":"q"},{"t":20.8,"i":-1.4,"s":"q"},{"t":21.1,"i":0.1,"s":"q"},{"t":21.5,"i":0.2,"s":"q"},{"t":22,"i":0.4,"s":"q"},{"t":22.3,"i":1.05,"s":"q"},{"t":22.8,"i":1.8,"s":"q"},{"t":23.1,"i":1.3,"s":"q"},{"t":23.4,"i":0.5,"s":"q"},{"t":23.8,"i":-0.6,"s":"q"},{"t":24.2,"i":-0.3,"s":"q"},{"t":24.7,"i":0.85,"s":"q"},{"t":25.4,"i":1.2,"s":"q"},{"t":26,"i":1.4,"s":"q"},{"t":26.4,"i":0.8,"s":"q"},{"t":26.7,"i":0.1,"s":"q"},{"t":27.2,"i":-0.1,"s":"q"},{"t":27.8,"i":0.1,"s":"q"},{"t":28.5,"i":0.0,"s":"q"},{"t":29.3,"i":0.1,"s":"q"},{"t":29.8,"i":-0.3,"s":"q"},{"t":30.3,"i":-1.0,"s":"q"},{"t":30.7,"i":-0.5,"s":"q"},{"t":31.2,"i":0.1,"s":"q"},{"t":31.8,"i":0.0,"s":"q"},{"t":32.3,"i":0.3,"s":"q"},{"t":32.8,"i":0.2,"s":"q"},{"t":33.3,"i":-0.2,"s":"q"},{"t":33.7,"i":-0.6,"s":"q"},{"t":34.2,"i":-0.1,"s":"q"},{"t":34.8,"i":0.1,"s":"q"},{"t":35.5,"i":0.3,"s":"q"},{"t":36,"i":0.2,"s":"q"},{"t":36.6,"i":-0.1,"s":"q"},{"t":37.2,"i":-0.3,"s":"q"},{"t":37.8,"i":0.0,"s":"q"},{"t":38.5,"i":0.1,"s":"q"},{"t":39.1,"i":0.0,"s":"q"},{"t":39.7,"i":-0.2,"s":"q"},{"t":40.3,"i":-0.3,"s":"q"},{"t":40.8,"i":0.2,"s":"q"},{"t":41.1,"i":0.7,"s":"q"},{"t":41.5,"i":0.0,"s":"q"},{"t":42,"i":0.1,"s":"q"},{"t":42.5,"i":0.3,"s":"q"},{"t":42.8,"i":0.7,"s":"q"},{"t":43.2,"i":0.4,"s":"q"},{"t":43.7,"i":0.0,"s":"q"},{"t":44.3,"i":-0.1,"s":"q"},{"t":45,"i":-0.1,"s":"q"},{"t":45.6,"i":0.0,"s":"q"},{"t":46.3,"i":0.1,"s":"q"},{"t":46.9,"i":0.0,"s":"q"},{"t":47.5,"i":0.2,"s":"q"},{"t":48.2,"i":0.3,"s":"q"},{"t":48.8,"i":0.1,"s":"q"},{"t":49.4,"i":0.2,"s":"q"},{"t":50,"i":0.0,"s":"q"}
]
},
"hconcat":[
{"width":492,"height":359,
"resolve":{"scale":{"y":"independent"},"axis":{"x":"independent","y":"independent"}},
"layer":[
{"data":{"name":"frame"},"mark":{"type":"point","opacity":0},"encoding":{
"x":{"field":"t","type":"quantitative","scale":{"domain":[0,50],"nice":false,"zero":false},"axis":{"orient":"bottom","values":[5,10,15,20,25,30,35,40,45],"grid":true,"gridColor":"#dddddd","gridWidth":1.5,"labels":false,"ticks":false,"domain":false,"title":null}},
"y":{"field":"yd","type":"quantitative","scale":{"domain":[-4,4],"nice":false,"zero":false},"axis":{"orient":"left","values":[-3,-2,-1,0,1,2,3],"grid":true,"gridColor":"#dddddd","gridWidth":1.5,"labels":false,"ticks":false,"domain":false,"title":null}}}},
{"data":{"name":"frame"},"mark":{"type":"point","opacity":0},"encoding":{
"x":{"field":"t","type":"quantitative","scale":{"domain":[0,50],"nice":false,"zero":false},"axis":{"orient":"bottom","values":[5,10,15,20,25,30,35,40,45],"grid":true,"gridColor":"#555555","gridWidth":1,"gridDash":[2.2,6.775],"gridDashOffset":1.1,"labels":false,"ticks":false,"domain":false,"title":null}},
"y":{"field":"yd","type":"quantitative","scale":{"domain":[-4,4],"nice":false,"zero":false},"axis":{"orient":"left","values":[-3,-2,-1,0,1,2,3],"grid":true,"gridColor":"#555555","gridWidth":1,"gridDash":[2.2,7.64],"gridDashOffset":1.1,"labels":false,"ticks":false,"domain":false,"title":null}}}},
{"data":{"name":"frame"},"mark":{"type":"point","opacity":0},"encoding":{
"x":{"field":"t","type":"quantitative","scale":{"domain":[0,50],"nice":false,"zero":false},"axis":{"orient":"bottom","values":[0,1,2,3,4,5,6,7,8,9,10,11,12,13,14,15,16,17,18,19,20,21,22,23,24,25,26,27,28,29,30,31,32,33,34,35,36,37,38,39,40,41,42,43,44,45,46,47,48,49,50],"grid":false,"labels":false,"ticks":true,"tickSize":-4,"tickColor":"#333333","tickWidth":1,"domain":false,"title":null}},
"y":{"field":"yd","type":"quantitative","scale":{"domain":[-4,4],"nice":false,"zero":false},"axis":{"orient":"left","values":[-4,-3.8,-3.6,-3.4,-3.2,-3,-2.8,-2.6,-2.4,-2.2,-2,-1.8,-1.6,-1.4,-1.2,-1,-0.8,-0.6,-0.4,-0.2,0,0.2,0.4,0.6,0.8,1,1.2,1.4,1.6,1.8,2,2.2,2.4,2.6,2.8,3,3.2,3.4,3.6,3.8,4],"grid":false,"labels":false,"ticks":true,"tickSize":-4,"tickColor":"#333333","tickWidth":1,"domain":false,"title":null}}}},
{"data":{"name":"frame"},"mark":{"type":"point","opacity":0},"encoding":{
"x":{"field":"t","type":"quantitative","scale":{"domain":[0,50],"nice":false,"zero":false},"axis":{"orient":"top","values":[0,1,2,3,4,5,6,7,8,9,10,11,12,13,14,15,16,17,18,19,20,21,22,23,24,25,26,27,28,29,30,31,32,33,34,35,36,37,38,39,40,41,42,43,44,45,46,47,48,49,50],"grid":false,"labels":false,"ticks":true,"tickSize":-4,"tickColor":"#333333","tickWidth":1,"domain":false,"title":null}},
"y":{"field":"yd","type":"quantitative","scale":{"domain":[-4,4],"nice":false,"zero":false},"axis":{"orient":"right","values":[-4,-3.8,-3.6,-3.4,-3.2,-3,-2.8,-2.6,-2.4,-2.2,-2,-1.8,-1.6,-1.4,-1.2,-1,-0.8,-0.6,-0.4,-0.2,0,0.2,0.4,0.6,0.8,1,1.2,1.4,1.6,1.8,2,2.2,2.4,2.6,2.8,3,3.2,3.4,3.6,3.8,4],"grid":false,"labels":false,"ticks":true,"tickSize":-4,"tickColor":"#333333","tickWidth":1,"domain":false,"title":null}}}},
{"data":{"name":"frame"},"mark":{"type":"point","opacity":0},"encoding":{
"x":{"field":"t","type":"quantitative","scale":{"domain":[0,50],"nice":false,"zero":false},"axis":{"orient":"bottom","offset":-184.5,"values":[0,1,2,3,4,5,6,7,8,9,10,11,12,13,14,15,16,17,18,19,20,21,22,23,24,25,26,27,28,29,30,31,32,33,34,35,36,37,38,39,40,41,42,43,44,45,46,47,48,49,50],"grid":false,"labels":false,"ticks":true,"tickSize":10,"tickColor":"#444444","tickWidth":1,"domain":false,"title":null}},
"y":{"field":"yd","type":"quantitative","scale":{"domain":[-4,4],"nice":false,"zero":false},"axis":{"orient":"left","offset":-251,"values":[-4,-3.8,-3.6,-3.4,-3.2,-3,-2.8,-2.6,-2.4,-2.2,-2,-1.8,-1.6,-1.4,-1.2,-1,-0.8,-0.6,-0.4,-0.2,0,0.2,0.4,0.6,0.8,1,1.2,1.4,1.6,1.8,2,2.2,2.4,2.6,2.8,3,3.2,3.4,3.6,3.8,4],"grid":false,"labels":false,"ticks":true,"tickSize":10,"tickColor":"#222222","tickWidth":1,"domain":false,"title":null}}}},
{"data":{"name":"ctr"},"mark":{"type":"rule","color":"#454545","strokeWidth":2.2},"encoding":{"y":{"field":"yd","type":"quantitative","scale":{"domain":[-4,4],"nice":false,"zero":false},"axis":null}}},
{"data":{"name":"ctr"},"mark":{"type":"rule","color":"#000000","strokeWidth":1.4},"encoding":{"x":{"field":"t","type":"quantitative","scale":{"domain":[0,50],"nice":false,"zero":false},"axis":null}}},
{"data":{"name":"ev_a"},"mark":{"type":"rule","color":"#000000","strokeWidth":1.3,"strokeDash":[7,4]},"encoding":{"x":{"field":"t","type":"quantitative","scale":{"domain":[0,50],"nice":false,"zero":false},"axis":null}}},
{"data":{"name":"va"},"mark":{"type":"line","strokeWidth":1.4},"encoding":{"x":{"field":"t","type":"quantitative","scale":{"domain":[0,50],"nice":false,"zero":false},"axis":null},"y":{"field":"v","type":"quantitative","scale":{"domain":[-1200,400],"nice":false,"zero":false},"axis":null},"color":{"field":"s","type":"nominal","scale":{"domain":["a","b","c","d","dsim","dref","q","qsim","qref","k"],"range":["#E6AE00","#6A4C9B","#8C1C22","#D9232A","#555555","#95B03A","#3B6EC2","#E8872F","#3A9A45","#111111"]},"legend":null}}},
{"data":{"name":"da"},"transform":[{"filter":"datum.s==='dref'"}],"mark":{"type":"line","strokeWidth":1.4},"encoding":{"x":{"field":"t","type":"quantitative","scale":{"domain":[0,50],"nice":false,"zero":false},"axis":null},"y":{"field":"i","type":"quantitative","scale":{"domain":[-10,30],"nice":false,"zero":false},"axis":null},"color":{"field":"s","type":"nominal","scale":{"domain":["a","b","c","d","dsim","dref","q","qsim","qref","k"],"range":["#E6AE00","#6A4C9B","#8C1C22","#D9232A","#555555","#95B03A","#3B6EC2","#E8872F","#3A9A45","#111111"]},"legend":null}}},
{"data":{"name":"da"},"transform":[{"filter":"datum.s==='dsim'"}],"mark":{"type":"line","strokeWidth":1.5,"interpolate":"step-after"},"encoding":{"x":{"field":"t","type":"quantitative","scale":{"domain":[0,50],"nice":false,"zero":false},"axis":null},"y":{"field":"i","type":"quantitative","scale":{"domain":[-10,30],"nice":false,"zero":false},"axis":null},"color":{"field":"s","type":"nominal","scale":{"domain":["a","b","c","d","dsim","dref","q","qsim","qref","k"],"range":["#E6AE00","#6A4C9B","#8C1C22","#D9232A","#555555","#95B03A","#3B6EC2","#E8872F","#3A9A45","#111111"]},"legend":null}}},
{"data":{"name":"da"},"transform":[{"filter":"datum.s==='d'"}],"mark":{"type":"line","strokeWidth":4,"opacity":0.3,"interpolate":"step-after"},"encoding":{"x":{"field":"t","type":"quantitative","scale":{"domain":[0,50],"nice":false,"zero":false},"axis":null},"y":{"field":"i","type":"quantitative","scale":{"domain":[-10,30],"nice":false,"zero":false},"axis":null},"color":{"field":"s","type":"nominal","scale":{"domain":["a","b","c","d","dsim","dref","q","qsim","qref","k"],"range":["#E6AE00","#6A4C9B","#8C1C22","#D9232A","#555555","#95B03A","#3B6EC2","#E8872F","#3A9A45","#111111"]},"legend":null}}},
{"data":{"name":"da"},"transform":[{"filter":"datum.s==='d'"}],"mark":{"type":"line","strokeWidth":1.5,"interpolate":"step-after"},"encoding":{"x":{"field":"t","type":"quantitative","scale":{"domain":[0,50],"nice":false,"zero":false},"axis":null},"y":{"field":"i","type":"quantitative","scale":{"domain":[-10,30],"nice":false,"zero":false},"axis":null},"color":{"field":"s","type":"nominal","scale":{"domain":["a","b","c","d","dsim","dref","q","qsim","qref","k"],"range":["#E6AE00","#6A4C9B","#8C1C22","#D9232A","#555555","#95B03A","#3B6EC2","#E8872F","#3A9A45","#111111"]},"legend":null}}},
{"data":{"name":"qa"},"transform":[{"filter":"datum.s==='qref'"}],"mark":{"type":"line","strokeWidth":1.4},"encoding":{"x":{"field":"t","type":"quantitative","scale":{"domain":[0,50],"nice":false,"zero":false},"axis":null},"y":{"field":"i","type":"quantitative","scale":{"domain":[-5,35],"nice":false,"zero":false},"axis":null},"color":{"field":"s","type":"nominal","scale":{"domain":["a","b","c","d","dsim","dref","q","qsim","qref","k"],"range":["#E6AE00","#6A4C9B","#8C1C22","#D9232A","#555555","#95B03A","#3B6EC2","#E8872F","#3A9A45","#111111"]},"legend":null}}},
{"data":{"name":"qa"},"transform":[{"filter":"datum.s==='qsim'"}],"mark":{"type":"line","strokeWidth":1.5,"interpolate":"step-after"},"encoding":{"x":{"field":"t","type":"quantitative","scale":{"domain":[0,50],"nice":false,"zero":false},"axis":null},"y":{"field":"i","type":"quantitative","scale":{"domain":[-5,35],"nice":false,"zero":false},"axis":null},"color":{"field":"s","type":"nominal","scale":{"domain":["a","b","c","d","dsim","dref","q","qsim","qref","k"],"range":["#E6AE00","#6A4C9B","#8C1C22","#D9232A","#555555","#95B03A","#3B6EC2","#E8872F","#3A9A45","#111111"]},"legend":null}}},
{"data":{"name":"qa"},"transform":[{"filter":"datum.s==='q'"}],"mark":{"type":"line","strokeWidth":4,"opacity":0.3,"interpolate":"step-after"},"encoding":{"x":{"field":"t","type":"quantitative","scale":{"domain":[0,50],"nice":false,"zero":false},"axis":null},"y":{"field":"i","type":"quantitative","scale":{"domain":[-5,35],"nice":false,"zero":false},"axis":null},"color":{"field":"s","type":"nominal","scale":{"domain":["a","b","c","d","dsim","dref","q","qsim","qref","k"],"range":["#E6AE00","#6A4C9B","#8C1C22","#D9232A","#555555","#95B03A","#3B6EC2","#E8872F","#3A9A45","#111111"]},"legend":null}}},
{"data":{"name":"qa"},"transform":[{"filter":"datum.s==='q'"}],"mark":{"type":"line","strokeWidth":1.5,"interpolate":"step-after"},"encoding":{"x":{"field":"t","type":"quantitative","scale":{"domain":[0,50],"nice":false,"zero":false},"axis":null},"y":{"field":"i","type":"quantitative","scale":{"domain":[-5,35],"nice":false,"zero":false},"axis":null},"color":{"field":"s","type":"nominal","scale":{"domain":["a","b","c","d","dsim","dref","q","qsim","qref","k"],"range":["#E6AE00","#6A4C9B","#8C1C22","#D9232A","#555555","#95B03A","#3B6EC2","#E8872F","#3A9A45","#111111"]},"legend":null}}},
{"data":{"name":"mk"},"mark":{"type":"point","shape":"triangle-right","filled":true,"size":150,"opacity":1},"encoding":{"x":{"field":"t","type":"quantitative","scale":{"domain":[0,50],"nice":false,"zero":false},"axis":null},"y":{"field":"yd","type":"quantitative","scale":{"domain":[-4,4],"nice":false,"zero":false},"axis":null},"color":{"field":"s","type":"nominal","scale":{"domain":["a","b","c","d","dsim","dref","q","qsim","qref","k"],"range":["#E6AE00","#6A4C9B","#8C1C22","#D9232A","#555555","#95B03A","#3B6EC2","#E8872F","#3A9A45","#111111"]},"legend":null}}},
{"data":{"name":"lab"},"transform":[{"filter":"datum.k==='bi'"}],"mark":{"type":"text","fontSize":22,"fontStyle":"italic","align":"left","baseline":"alphabetic"},"encoding":{"x":{"field":"t","type":"quantitative","scale":{"domain":[0,50],"nice":false,"zero":false},"axis":null},"y":{"field":"yd","type":"quantitative","scale":{"domain":[-4,4],"nice":false,"zero":false},"axis":null},"text":{"field":"text","type":"nominal"},"color":{"field":"s","type":"nominal","scale":{"domain":["a","b","c","d","dsim","dref","q","qsim","qref","k"],"range":["#E6AE00","#6A4C9B","#8C1C22","#D9232A","#555555","#95B03A","#3B6EC2","#E8872F","#3A9A45","#111111"]},"legend":null}}},
{"data":{"name":"lab"},"transform":[{"filter":"datum.k==='bl'"}],"mark":{"type":"text","fontSize":22,"align":"left","baseline":"alphabetic"},"encoding":{"x":{"field":"t","type":"quantitative","scale":{"domain":[0,50],"nice":false,"zero":false},"axis":null},"y":{"field":"yd","type":"quantitative","scale":{"domain":[-4,4],"nice":false,"zero":false},"axis":null},"text":{"field":"text","type":"nominal"},"color":{"field":"s","type":"nominal","scale":{"domain":["a","b","c","d","dsim","dref","q","qsim","qref","k"],"range":["#E6AE00","#6A4C9B","#8C1C22","#D9232A","#555555","#95B03A","#3B6EC2","#E8872F","#3A9A45","#111111"]},"legend":null}}},
{"data":{"name":"lab"},"transform":[{"filter":"datum.k==='br'"}],"mark":{"type":"text","fontSize":22,"align":"right","baseline":"alphabetic"},"encoding":{"x":{"field":"t","type":"quantitative","scale":{"domain":[0,50],"nice":false,"zero":false},"axis":null},"y":{"field":"yd","type":"quantitative","scale":{"domain":[-4,4],"nice":false,"zero":false},"axis":null},"text":{"field":"text","type":"nominal"},"color":{"field":"s","type":"nominal","scale":{"domain":["a","b","c","d","dsim","dref","q","qsim","qref","k"],"range":["#E6AE00","#6A4C9B","#8C1C22","#D9232A","#555555","#95B03A","#3B6EC2","#E8872F","#3A9A45","#111111"]},"legend":null}}},
{"data":{"name":"lab"},"transform":[{"filter":"datum.k==='bc'"}],"mark":{"type":"text","fontSize":22,"align":"center","baseline":"alphabetic"},"encoding":{"x":{"field":"t","type":"quantitative","scale":{"domain":[0,50],"nice":false,"zero":false},"axis":null},"y":{"field":"yd","type":"quantitative","scale":{"domain":[-4,4],"nice":false,"zero":false},"axis":null},"text":{"field":"text","type":"nominal"},"color":{"field":"s","type":"nominal","scale":{"domain":["a","b","c","d","dsim","dref","q","qsim","qref","k"],"range":["#E6AE00","#6A4C9B","#8C1C22","#D9232A","#555555","#95B03A","#3B6EC2","#E8872F","#3A9A45","#111111"]},"legend":null}}},
{"data":{"name":"lab"},"transform":[{"filter":"datum.k==='si'"}],"mark":{"type":"text","fontSize":17,"fontStyle":"italic","align":"left","baseline":"alphabetic"},"encoding":{"x":{"field":"t","type":"quantitative","scale":{"domain":[0,50],"nice":false,"zero":false},"axis":null},"y":{"field":"yd","type":"quantitative","scale":{"domain":[-4,4],"nice":false,"zero":false},"axis":null},"text":{"field":"text","type":"nominal"},"color":{"field":"s","type":"nominal","scale":{"domain":["a","b","c","d","dsim","dref","q","qsim","qref","k"],"range":["#E6AE00","#6A4C9B","#8C1C22","#D9232A","#555555","#95B03A","#3B6EC2","#E8872F","#3A9A45","#111111"]},"legend":null}}},
{"data":{"name":"lab"},"transform":[{"filter":"datum.k==='sr'"}],"mark":{"type":"text","fontSize":14,"align":"left","baseline":"alphabetic"},"encoding":{"x":{"field":"t","type":"quantitative","scale":{"domain":[0,50],"nice":false,"zero":false},"axis":null},"y":{"field":"yd","type":"quantitative","scale":{"domain":[-4,4],"nice":false,"zero":false},"axis":null},"text":{"field":"text","type":"nominal"},"color":{"field":"s","type":"nominal","scale":{"domain":["a","b","c","d","dsim","dref","q","qsim","qref","k"],"range":["#E6AE00","#6A4C9B","#8C1C22","#D9232A","#555555","#95B03A","#3B6EC2","#E8872F","#3A9A45","#111111"]},"legend":null}}},
{"data":{"name":"lab"},"transform":[{"filter":"datum.k==='st'"}],"mark":{"type":"text","fontSize":14,"align":"left","baseline":"alphabetic"},"encoding":{"x":{"field":"t","type":"quantitative","scale":{"domain":[0,50],"nice":false,"zero":false},"axis":null},"y":{"field":"yd","type":"quantitative","scale":{"domain":[-4,4],"nice":false,"zero":false},"axis":null},"text":{"field":"text","type":"nominal"},"color":{"field":"s","type":"nominal","scale":{"domain":["a","b","c","d","dsim","dref","q","qsim","qref","k"],"range":["#E6AE00","#6A4C9B","#8C1C22","#D9232A","#555555","#95B03A","#3B6EC2","#E8872F","#3A9A45","#111111"]},"legend":null}}},
{"data":{"name":"seg_a"},"mark":{"type":"rule","color":"#000000","strokeWidth":1.2},"encoding":{"x":{"field":"t","type":"quantitative","scale":{"domain":[0,50],"nice":false,"zero":false},"axis":null},"x2":{"field":"t2"},"y":{"field":"yd","type":"quantitative","scale":{"domain":[-4,4],"nice":false,"zero":false},"axis":null},"y2":{"field":"yd2"}}},
{"data":{"name":"head_a"},"mark":{"type":"point","filled":true,"size":45,"color":"#000000","opacity":1},"encoding":{"x":{"field":"t","type":"quantitative","scale":{"domain":[0,50],"nice":false,"zero":false},"axis":null},"y":{"field":"yd","type":"quantitative","scale":{"domain":[-4,4],"nice":false,"zero":false},"axis":null},"shape":{"field":"dir","type":"nominal","scale":{"domain":["l","r"],"range":["triangle-left","triangle-right"]},"legend":null}}},
{"data":{"name":"txt_a"},"transform":[{"filter":"datum.k==='ms'"}],"mark":{"type":"text","fontSize":17,"align":"center","baseline":"alphabetic","color":"#111111"},"encoding":{"x":{"field":"t","type":"quantitative","scale":{"domain":[0,50],"nice":false,"zero":false},"axis":null},"y":{"field":"yd","type":"quantitative","scale":{"domain":[-4,4],"nice":false,"zero":false},"axis":null},"text":{"field":"text","type":"nominal"}}},
{"data":{"name":"txt_a"},"transform":[{"filter":"datum.k==='cap'"}],"mark":{"type":"text","fontSize":19,"align":"center","baseline":"alphabetic","color":"#111111"},"encoding":{"x":{"field":"t","type":"quantitative","scale":{"domain":[0,50],"nice":false,"zero":false},"axis":null},"y":{"field":"yd","type":"quantitative","scale":{"domain":[-4,4],"nice":false,"zero":false},"axis":null},"text":{"field":"text","type":"nominal"}}}
]},
{"width":492,"height":359,
"resolve":{"scale":{"y":"independent"},"axis":{"x":"independent","y":"independent"}},
"layer":[
{"data":{"name":"frame"},"mark":{"type":"point","opacity":0},"encoding":{
"x":{"field":"t","type":"quantitative","scale":{"domain":[0,50],"nice":false,"zero":false},"axis":{"orient":"bottom","values":[5,10,15,20,25,30,35,40,45],"grid":true,"gridColor":"#dddddd","gridWidth":1.5,"labels":false,"ticks":false,"domain":false,"title":null}},
"y":{"field":"yd","type":"quantitative","scale":{"domain":[-4,4],"nice":false,"zero":false},"axis":{"orient":"left","values":[-3,-2,-1,0,1,2,3],"grid":true,"gridColor":"#dddddd","gridWidth":1.5,"labels":false,"ticks":false,"domain":false,"title":null}}}},
{"data":{"name":"frame"},"mark":{"type":"point","opacity":0},"encoding":{
"x":{"field":"t","type":"quantitative","scale":{"domain":[0,50],"nice":false,"zero":false},"axis":{"orient":"bottom","values":[5,10,15,20,25,30,35,40,45],"grid":true,"gridColor":"#555555","gridWidth":1,"gridDash":[2.2,6.775],"gridDashOffset":1.1,"labels":false,"ticks":false,"domain":false,"title":null}},
"y":{"field":"yd","type":"quantitative","scale":{"domain":[-4,4],"nice":false,"zero":false},"axis":{"orient":"left","values":[-3,-2,-1,0,1,2,3],"grid":true,"gridColor":"#555555","gridWidth":1,"gridDash":[2.2,7.64],"gridDashOffset":1.1,"labels":false,"ticks":false,"domain":false,"title":null}}}},
{"data":{"name":"frame"},"mark":{"type":"point","opacity":0},"encoding":{
"x":{"field":"t","type":"quantitative","scale":{"domain":[0,50],"nice":false,"zero":false},"axis":{"orient":"bottom","values":[0,1,2,3,4,5,6,7,8,9,10,11,12,13,14,15,16,17,18,19,20,21,22,23,24,25,26,27,28,29,30,31,32,33,34,35,36,37,38,39,40,41,42,43,44,45,46,47,48,49,50],"grid":false,"labels":false,"ticks":true,"tickSize":-4,"tickColor":"#333333","tickWidth":1,"domain":false,"title":null}},
"y":{"field":"yd","type":"quantitative","scale":{"domain":[-4,4],"nice":false,"zero":false},"axis":{"orient":"left","values":[-4,-3.8,-3.6,-3.4,-3.2,-3,-2.8,-2.6,-2.4,-2.2,-2,-1.8,-1.6,-1.4,-1.2,-1,-0.8,-0.6,-0.4,-0.2,0,0.2,0.4,0.6,0.8,1,1.2,1.4,1.6,1.8,2,2.2,2.4,2.6,2.8,3,3.2,3.4,3.6,3.8,4],"grid":false,"labels":false,"ticks":true,"tickSize":-4,"tickColor":"#333333","tickWidth":1,"domain":false,"title":null}}}},
{"data":{"name":"frame"},"mark":{"type":"point","opacity":0},"encoding":{
"x":{"field":"t","type":"quantitative","scale":{"domain":[0,50],"nice":false,"zero":false},"axis":{"orient":"top","values":[0,1,2,3,4,5,6,7,8,9,10,11,12,13,14,15,16,17,18,19,20,21,22,23,24,25,26,27,28,29,30,31,32,33,34,35,36,37,38,39,40,41,42,43,44,45,46,47,48,49,50],"grid":false,"labels":false,"ticks":true,"tickSize":-4,"tickColor":"#333333","tickWidth":1,"domain":false,"title":null}},
"y":{"field":"yd","type":"quantitative","scale":{"domain":[-4,4],"nice":false,"zero":false},"axis":{"orient":"right","values":[-4,-3.8,-3.6,-3.4,-3.2,-3,-2.8,-2.6,-2.4,-2.2,-2,-1.8,-1.6,-1.4,-1.2,-1,-0.8,-0.6,-0.4,-0.2,0,0.2,0.4,0.6,0.8,1,1.2,1.4,1.6,1.8,2,2.2,2.4,2.6,2.8,3,3.2,3.4,3.6,3.8,4],"grid":false,"labels":false,"ticks":true,"tickSize":-4,"tickColor":"#333333","tickWidth":1,"domain":false,"title":null}}}},
{"data":{"name":"frame"},"mark":{"type":"point","opacity":0},"encoding":{
"x":{"field":"t","type":"quantitative","scale":{"domain":[0,50],"nice":false,"zero":false},"axis":{"orient":"bottom","offset":-184.5,"values":[0,1,2,3,4,5,6,7,8,9,10,11,12,13,14,15,16,17,18,19,20,21,22,23,24,25,26,27,28,29,30,31,32,33,34,35,36,37,38,39,40,41,42,43,44,45,46,47,48,49,50],"grid":false,"labels":false,"ticks":true,"tickSize":10,"tickColor":"#444444","tickWidth":1,"domain":false,"title":null}},
"y":{"field":"yd","type":"quantitative","scale":{"domain":[-4,4],"nice":false,"zero":false},"axis":{"orient":"left","offset":-251,"values":[-4,-3.8,-3.6,-3.4,-3.2,-3,-2.8,-2.6,-2.4,-2.2,-2,-1.8,-1.6,-1.4,-1.2,-1,-0.8,-0.6,-0.4,-0.2,0,0.2,0.4,0.6,0.8,1,1.2,1.4,1.6,1.8,2,2.2,2.4,2.6,2.8,3,3.2,3.4,3.6,3.8,4],"grid":false,"labels":false,"ticks":true,"tickSize":10,"tickColor":"#222222","tickWidth":1,"domain":false,"title":null}}}},
{"data":{"name":"ctr"},"mark":{"type":"rule","color":"#454545","strokeWidth":2.2},"encoding":{"y":{"field":"yd","type":"quantitative","scale":{"domain":[-4,4],"nice":false,"zero":false},"axis":null}}},
{"data":{"name":"ctr"},"mark":{"type":"rule","color":"#000000","strokeWidth":1.4},"encoding":{"x":{"field":"t","type":"quantitative","scale":{"domain":[0,50],"nice":false,"zero":false},"axis":null}}},
{"data":{"name":"ev_b"},"mark":{"type":"rule","color":"#000000","strokeWidth":1.3,"strokeDash":[7,4]},"encoding":{"x":{"field":"t","type":"quantitative","scale":{"domain":[0,50],"nice":false,"zero":false},"axis":null}}},
{"data":{"name":"vb"},"mark":{"type":"line","strokeWidth":1.4},"encoding":{"x":{"field":"t","type":"quantitative","scale":{"domain":[0,50],"nice":false,"zero":false},"axis":null},"y":{"field":"v","type":"quantitative","scale":{"domain":[-1200,400],"nice":false,"zero":false},"axis":null},"color":{"field":"s","type":"nominal","scale":{"domain":["a","b","c","d","dsim","dref","q","qsim","qref","k"],"range":["#E6AE00","#6A4C9B","#8C1C22","#D9232A","#555555","#95B03A","#3B6EC2","#E8872F","#3A9A45","#111111"]},"legend":null}}},
{"data":{"name":"db"},"transform":[{"filter":"datum.s==='dref'"}],"mark":{"type":"line","strokeWidth":1.4},"encoding":{"x":{"field":"t","type":"quantitative","scale":{"domain":[0,50],"nice":false,"zero":false},"axis":null},"y":{"field":"i","type":"quantitative","scale":{"domain":[-10,30],"nice":false,"zero":false},"axis":null},"color":{"field":"s","type":"nominal","scale":{"domain":["a","b","c","d","dsim","dref","q","qsim","qref","k"],"range":["#E6AE00","#6A4C9B","#8C1C22","#D9232A","#555555","#95B03A","#3B6EC2","#E8872F","#3A9A45","#111111"]},"legend":null}}},
{"data":{"name":"db"},"transform":[{"filter":"datum.s==='dsim'"}],"mark":{"type":"line","strokeWidth":1.5,"interpolate":"step-after"},"encoding":{"x":{"field":"t","type":"quantitative","scale":{"domain":[0,50],"nice":false,"zero":false},"axis":null},"y":{"field":"i","type":"quantitative","scale":{"domain":[-10,30],"nice":false,"zero":false},"axis":null},"color":{"field":"s","type":"nominal","scale":{"domain":["a","b","c","d","dsim","dref","q","qsim","qref","k"],"range":["#E6AE00","#6A4C9B","#8C1C22","#D9232A","#555555","#95B03A","#3B6EC2","#E8872F","#3A9A45","#111111"]},"legend":null}}},
{"data":{"name":"db"},"transform":[{"filter":"datum.s==='d'"}],"mark":{"type":"line","strokeWidth":4,"opacity":0.3,"interpolate":"step-after"},"encoding":{"x":{"field":"t","type":"quantitative","scale":{"domain":[0,50],"nice":false,"zero":false},"axis":null},"y":{"field":"i","type":"quantitative","scale":{"domain":[-10,30],"nice":false,"zero":false},"axis":null},"color":{"field":"s","type":"nominal","scale":{"domain":["a","b","c","d","dsim","dref","q","qsim","qref","k"],"range":["#E6AE00","#6A4C9B","#8C1C22","#D9232A","#555555","#95B03A","#3B6EC2","#E8872F","#3A9A45","#111111"]},"legend":null}}},
{"data":{"name":"db"},"transform":[{"filter":"datum.s==='d'"}],"mark":{"type":"line","strokeWidth":1.5,"interpolate":"step-after"},"encoding":{"x":{"field":"t","type":"quantitative","scale":{"domain":[0,50],"nice":false,"zero":false},"axis":null},"y":{"field":"i","type":"quantitative","scale":{"domain":[-10,30],"nice":false,"zero":false},"axis":null},"color":{"field":"s","type":"nominal","scale":{"domain":["a","b","c","d","dsim","dref","q","qsim","qref","k"],"range":["#E6AE00","#6A4C9B","#8C1C22","#D9232A","#555555","#95B03A","#3B6EC2","#E8872F","#3A9A45","#111111"]},"legend":null}}},
{"data":{"name":"qb"},"transform":[{"filter":"datum.s==='qref'"}],"mark":{"type":"line","strokeWidth":1.4},"encoding":{"x":{"field":"t","type":"quantitative","scale":{"domain":[0,50],"nice":false,"zero":false},"axis":null},"y":{"field":"i","type":"quantitative","scale":{"domain":[-5,35],"nice":false,"zero":false},"axis":null},"color":{"field":"s","type":"nominal","scale":{"domain":["a","b","c","d","dsim","dref","q","qsim","qref","k"],"range":["#E6AE00","#6A4C9B","#8C1C22","#D9232A","#555555","#95B03A","#3B6EC2","#E8872F","#3A9A45","#111111"]},"legend":null}}},
{"data":{"name":"qb"},"transform":[{"filter":"datum.s==='qsim'"}],"mark":{"type":"line","strokeWidth":1.5,"interpolate":"step-after"},"encoding":{"x":{"field":"t","type":"quantitative","scale":{"domain":[0,50],"nice":false,"zero":false},"axis":null},"y":{"field":"i","type":"quantitative","scale":{"domain":[-5,35],"nice":false,"zero":false},"axis":null},"color":{"field":"s","type":"nominal","scale":{"domain":["a","b","c","d","dsim","dref","q","qsim","qref","k"],"range":["#E6AE00","#6A4C9B","#8C1C22","#D9232A","#555555","#95B03A","#3B6EC2","#E8872F","#3A9A45","#111111"]},"legend":null}}},
{"data":{"name":"qb"},"transform":[{"filter":"datum.s==='q'"}],"mark":{"type":"line","strokeWidth":4,"opacity":0.3,"interpolate":"step-after"},"encoding":{"x":{"field":"t","type":"quantitative","scale":{"domain":[0,50],"nice":false,"zero":false},"axis":null},"y":{"field":"i","type":"quantitative","scale":{"domain":[-5,35],"nice":false,"zero":false},"axis":null},"color":{"field":"s","type":"nominal","scale":{"domain":["a","b","c","d","dsim","dref","q","qsim","qref","k"],"range":["#E6AE00","#6A4C9B","#8C1C22","#D9232A","#555555","#95B03A","#3B6EC2","#E8872F","#3A9A45","#111111"]},"legend":null}}},
{"data":{"name":"qb"},"transform":[{"filter":"datum.s==='q'"}],"mark":{"type":"line","strokeWidth":1.5,"interpolate":"step-after"},"encoding":{"x":{"field":"t","type":"quantitative","scale":{"domain":[0,50],"nice":false,"zero":false},"axis":null},"y":{"field":"i","type":"quantitative","scale":{"domain":[-5,35],"nice":false,"zero":false},"axis":null},"color":{"field":"s","type":"nominal","scale":{"domain":["a","b","c","d","dsim","dref","q","qsim","qref","k"],"range":["#E6AE00","#6A4C9B","#8C1C22","#D9232A","#555555","#95B03A","#3B6EC2","#E8872F","#3A9A45","#111111"]},"legend":null}}},
{"data":{"name":"mk"},"mark":{"type":"point","shape":"triangle-right","filled":true,"size":150,"opacity":1},"encoding":{"x":{"field":"t","type":"quantitative","scale":{"domain":[0,50],"nice":false,"zero":false},"axis":null},"y":{"field":"yd","type":"quantitative","scale":{"domain":[-4,4],"nice":false,"zero":false},"axis":null},"color":{"field":"s","type":"nominal","scale":{"domain":["a","b","c","d","dsim","dref","q","qsim","qref","k"],"range":["#E6AE00","#6A4C9B","#8C1C22","#D9232A","#555555","#95B03A","#3B6EC2","#E8872F","#3A9A45","#111111"]},"legend":null}}},
{"data":{"name":"lab"},"transform":[{"filter":"datum.k==='bi'"}],"mark":{"type":"text","fontSize":22,"fontStyle":"italic","align":"left","baseline":"alphabetic"},"encoding":{"x":{"field":"t","type":"quantitative","scale":{"domain":[0,50],"nice":false,"zero":false},"axis":null},"y":{"field":"yd","type":"quantitative","scale":{"domain":[-4,4],"nice":false,"zero":false},"axis":null},"text":{"field":"text","type":"nominal"},"color":{"field":"s","type":"nominal","scale":{"domain":["a","b","c","d","dsim","dref","q","qsim","qref","k"],"range":["#E6AE00","#6A4C9B","#8C1C22","#D9232A","#555555","#95B03A","#3B6EC2","#E8872F","#3A9A45","#111111"]},"legend":null}}},
{"data":{"name":"lab"},"transform":[{"filter":"datum.k==='bl'"}],"mark":{"type":"text","fontSize":22,"align":"left","baseline":"alphabetic"},"encoding":{"x":{"field":"t","type":"quantitative","scale":{"domain":[0,50],"nice":false,"zero":false},"axis":null},"y":{"field":"yd","type":"quantitative","scale":{"domain":[-4,4],"nice":false,"zero":false},"axis":null},"text":{"field":"text","type":"nominal"},"color":{"field":"s","type":"nominal","scale":{"domain":["a","b","c","d","dsim","dref","q","qsim","qref","k"],"range":["#E6AE00","#6A4C9B","#8C1C22","#D9232A","#555555","#95B03A","#3B6EC2","#E8872F","#3A9A45","#111111"]},"legend":null}}},
{"data":{"name":"lab"},"transform":[{"filter":"datum.k==='br'"}],"mark":{"type":"text","fontSize":22,"align":"right","baseline":"alphabetic"},"encoding":{"x":{"field":"t","type":"quantitative","scale":{"domain":[0,50],"nice":false,"zero":false},"axis":null},"y":{"field":"yd","type":"quantitative","scale":{"domain":[-4,4],"nice":false,"zero":false},"axis":null},"text":{"field":"text","type":"nominal"},"color":{"field":"s","type":"nominal","scale":{"domain":["a","b","c","d","dsim","dref","q","qsim","qref","k"],"range":["#E6AE00","#6A4C9B","#8C1C22","#D9232A","#555555","#95B03A","#3B6EC2","#E8872F","#3A9A45","#111111"]},"legend":null}}},
{"data":{"name":"lab"},"transform":[{"filter":"datum.k==='bc'"}],"mark":{"type":"text","fontSize":22,"align":"center","baseline":"alphabetic"},"encoding":{"x":{"field":"t","type":"quantitative","scale":{"domain":[0,50],"nice":false,"zero":false},"axis":null},"y":{"field":"yd","type":"quantitative","scale":{"domain":[-4,4],"nice":false,"zero":false},"axis":null},"text":{"field":"text","type":"nominal"},"color":{"field":"s","type":"nominal","scale":{"domain":["a","b","c","d","dsim","dref","q","qsim","qref","k"],"range":["#E6AE00","#6A4C9B","#8C1C22","#D9232A","#555555","#95B03A","#3B6EC2","#E8872F","#3A9A45","#111111"]},"legend":null}}},
{"data":{"name":"lab"},"transform":[{"filter":"datum.k==='si'"}],"mark":{"type":"text","fontSize":17,"fontStyle":"italic","align":"left","baseline":"alphabetic"},"encoding":{"x":{"field":"t","type":"quantitative","scale":{"domain":[0,50],"nice":false,"zero":false},"axis":null},"y":{"field":"yd","type":"quantitative","scale":{"domain":[-4,4],"nice":false,"zero":false},"axis":null},"text":{"field":"text","type":"nominal"},"color":{"field":"s","type":"nominal","scale":{"domain":["a","b","c","d","dsim","dref","q","qsim","qref","k"],"range":["#E6AE00","#6A4C9B","#8C1C22","#D9232A","#555555","#95B03A","#3B6EC2","#E8872F","#3A9A45","#111111"]},"legend":null}}},
{"data":{"name":"lab"},"transform":[{"filter":"datum.k==='sr'"}],"mark":{"type":"text","fontSize":14,"align":"left","baseline":"alphabetic"},"encoding":{"x":{"field":"t","type":"quantitative","scale":{"domain":[0,50],"nice":false,"zero":false},"axis":null},"y":{"field":"yd","type":"quantitative","scale":{"domain":[-4,4],"nice":false,"zero":false},"axis":null},"text":{"field":"text","type":"nominal"},"color":{"field":"s","type":"nominal","scale":{"domain":["a","b","c","d","dsim","dref","q","qsim","qref","k"],"range":["#E6AE00","#6A4C9B","#8C1C22","#D9232A","#555555","#95B03A","#3B6EC2","#E8872F","#3A9A45","#111111"]},"legend":null}}},
{"data":{"name":"lab"},"transform":[{"filter":"datum.k==='st'"}],"mark":{"type":"text","fontSize":14,"align":"left","baseline":"alphabetic"},"encoding":{"x":{"field":"t","type":"quantitative","scale":{"domain":[0,50],"nice":false,"zero":false},"axis":null},"y":{"field":"yd","type":"quantitative","scale":{"domain":[-4,4],"nice":false,"zero":false},"axis":null},"text":{"field":"text","type":"nominal"},"color":{"field":"s","type":"nominal","scale":{"domain":["a","b","c","d","dsim","dref","q","qsim","qref","k"],"range":["#E6AE00","#6A4C9B","#8C1C22","#D9232A","#555555","#95B03A","#3B6EC2","#E8872F","#3A9A45","#111111"]},"legend":null}}},
{"data":{"name":"seg_b"},"mark":{"type":"rule","color":"#000000","strokeWidth":1.2},"encoding":{"x":{"field":"t","type":"quantitative","scale":{"domain":[0,50],"nice":false,"zero":false},"axis":null},"x2":{"field":"t2"},"y":{"field":"yd","type":"quantitative","scale":{"domain":[-4,4],"nice":false,"zero":false},"axis":null},"y2":{"field":"yd2"}}},
{"data":{"name":"head_b"},"mark":{"type":"point","filled":true,"size":45,"color":"#000000","opacity":1},"encoding":{"x":{"field":"t","type":"quantitative","scale":{"domain":[0,50],"nice":false,"zero":false},"axis":null},"y":{"field":"yd","type":"quantitative","scale":{"domain":[-4,4],"nice":false,"zero":false},"axis":null},"shape":{"field":"dir","type":"nominal","scale":{"domain":["l","r"],"range":["triangle-left","triangle-right"]},"legend":null}}},
{"data":{"name":"txt_b"},"transform":[{"filter":"datum.k==='ms'"}],"mark":{"type":"text","fontSize":17,"align":"center","baseline":"alphabetic","color":"#111111"},"encoding":{"x":{"field":"t","type":"quantitative","scale":{"domain":[0,50],"nice":false,"zero":false},"axis":null},"y":{"field":"yd","type":"quantitative","scale":{"domain":[-4,4],"nice":false,"zero":false},"axis":null},"text":{"field":"text","type":"nominal"}}},
{"data":{"name":"txt_b"},"transform":[{"filter":"datum.k==='cap'"}],"mark":{"type":"text","fontSize":19,"align":"center","baseline":"alphabetic","color":"#111111"},"encoding":{"x":{"field":"t","type":"quantitative","scale":{"domain":[0,50],"nice":false,"zero":false},"axis":null},"y":{"field":"yd","type":"quantitative","scale":{"domain":[-4,4],"nice":false,"zero":false},"axis":null},"text":{"field":"text","type":"nominal"}}}
]}
]
}
